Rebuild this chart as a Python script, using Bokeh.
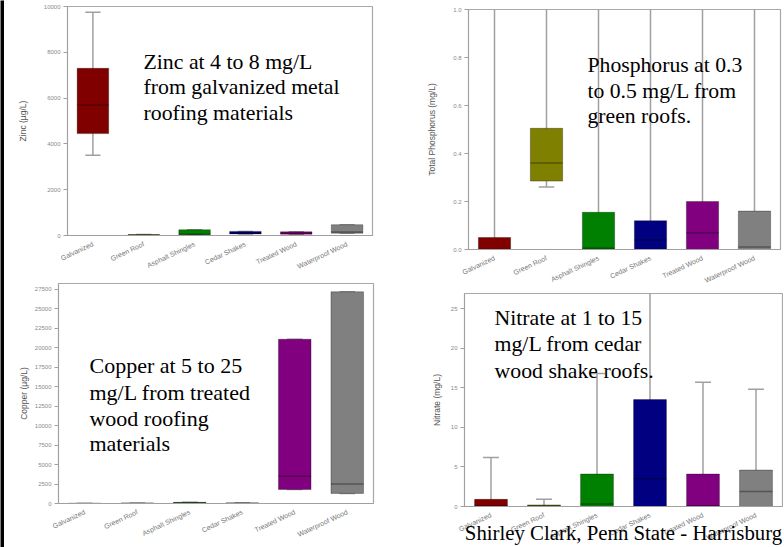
from bokeh.plotting import figure
from bokeh.models import (FactorRange, Range1d, Label, FixedTicker, NumeralTickFormatter,
                          ColumnDataSource)
from bokeh.layouts import row, column
from bokeh.embed import file_html
from bokeh.resources import INLINE

categories = ["Galvanized", "Green Roof", "Asphalt Shingles", "Cedar Shakes",
              "Treated Wood", "Waterproof Wood"]
box_colors = ["#800000", "#808000", "#008000", "#000080", "#800080", "#808080"]

# Zinc (ug/L)
zinc_low = [3500, 10, 30, 70, 55, 100]
zinc_q1 = [4450, 10, 30, 70, 55, 100]
zinc_med = [5700, 25, 60, 120, 100, 150]
zinc_q3 = [7300, 40, 250, 180, 160, 470]
zinc_high = [9750, 40, 250, 180, 160, 470]
zinc_ticks = [0, 2000, 4000, 6000, 8000, 10000]

# Total phosphorus (mg/L)
phos_low = [0.0, 0.26, 0.0, 0.0, 0.0, 0.0]
phos_q1 = [0.0, 0.285, 0.0, 0.0, 0.0, 0.0]
phos_med = [0.0, 0.36, 0.005, 0.04, 0.07, 0.01]
phos_q3 = [0.05, 0.505, 0.155, 0.12, 0.2, 0.16]
phos_high = [1.5, 1.5, 1.5, 1.5, 1.5, 1.5]
phos_ticks = [0.0, 0.2, 0.4, 0.6, 0.8, 1.0]

# Copper (ug/L)
copper_low = [0, 0, 20, 10, 1800, 1300]
copper_q1 = [0, 0, 20, 10, 1800, 1300]
copper_med = [0, 20, 80, 40, 3500, 2500]
copper_q3 = [5, 40, 150, 80, 21100, 27200]
copper_high = [5, 40, 150, 80, 21100, 27200]
copper_ticks = [0, 2500, 5000, 7500, 10000, 12500, 15000, 17500, 20000, 22500, 25000, 27500]

# Nitrate (mg/L)
nitrate_low = [0, 0, 0, 0, 0, 0]
nitrate_q1 = [0, 0.05, 0, 0, 0, 0]
nitrate_med = [0.1, 0.1, 0.3, 3.5, 0.1, 1.9]
nitrate_q3 = [0.9, 0.2, 4.1, 13.5, 4.1, 4.6]
nitrate_high = [6.2, 0.9, 16.8, 40, 15.7, 14.8]
nitrate_ticks = [0, 5, 10, 15, 20, 25]

SERIF = "Liberation Serif"
SANS = "Liberation Sans"
GRAY = "#a0a0a0"


def make_panel(ylabel, low, q1, med, q3, high, y_end, ticks, fmt,
               w, h, borders, label_standoff):
    p = figure(x_range=FactorRange(*categories), y_range=Range1d(0, y_end),
               width=w, height=h, output_backend="svg",
               toolbar_location=None,
               min_border_left=borders[0], min_border_right=borders[1],
               min_border_top=borders[2], min_border_bottom=borders[3])
    src = ColumnDataSource(dict(cat=categories, low=low, q1=q1, med=med, q3=q3,
                                high=high, color=box_colors))
    p.segment(x0="cat", y0="low", x1="cat", y1="high", source=src,
              line_color=GRAY, line_width=1.5)
    p.rect(x="cat", y="low", width=0.3, height=1.5, height_units="screen",
           source=src, fill_color=GRAY, line_color=None)
    p.rect(x="cat", y="high", width=0.3, height=1.5, height_units="screen",
           source=src, fill_color=GRAY, line_color=None)
    p.vbar(x="cat", bottom="q1", top="q3", width=0.62, source=src,
           fill_color="color", line_color="black", line_alpha=0.3, line_width=1)
    p.rect(x="cat", y="med", width=0.62, height=1.5, height_units="screen",
           source=src, fill_color="black", fill_alpha=0.35, line_color=None)

    p.xgrid.visible = False
    p.ygrid.visible = False
    p.outline_line_color = "#a8a8a8"
    p.outline_line_width = 1.2
    p.background_fill_color = "white"
    p.border_fill_color = "white"

    xa = p.xaxis[0]
    xa.major_label_orientation = 0.44
    xa.major_label_text_font = SANS
    xa.major_label_text_font_size = "7px"
    xa.major_label_text_color = "#7a7a7a"
    xa.major_tick_line_color = None
    xa.axis_line_color = GRAY
    xa.major_label_standoff = 2

    ya = p.yaxis[0]
    ya.ticker = FixedTicker(ticks=ticks)
    if fmt:
        ya.formatter = NumeralTickFormatter(format=fmt)
    ya.minor_tick_line_color = None
    ya.major_tick_out = 4
    ya.major_tick_in = 0
    ya.major_tick_line_color = GRAY
    ya.axis_line_color = GRAY
    ya.major_label_text_font = SANS
    ya.major_label_text_font_size = "6px"
    ya.major_label_text_color = "#8a8a8a"
    ya.major_label_standoff = 3
    ya.axis_label = ylabel
    ya.axis_label_text_font = SANS
    ya.axis_label_text_font_size = "8.5px"
    ya.axis_label_text_font_style = "normal"
    ya.axis_label_text_color = "#555555"
    ya.axis_label_standoff = label_standoff
    return p


def add_note(p, lines, x, ys, size="21.8px"):
    for line, y in zip(lines, ys):
        p.add_layout(Label(x=x, y=y, text=line, text_font=SERIF,
                           text_font_size=size, text_color="black",
                           text_baseline="alphabetic", text_align="left"))


# Zinc
pa = make_panel("Zinc (\u00b5g/L)", zinc_low, zinc_q1, zinc_med, zinc_q3, zinc_high,
                10000, zinc_ticks, None, 388, 277, (63, 20, 6, 42), 13)
add_note(pa, ["Zinc at 4 to 8 mg/L", "from galvanized metal", "roofing materials"],
         1.495, [7555, 6463, 5371])

# Phosphorus
pb = make_panel("Total Phosphorus (mg/L)", phos_low, phos_q1, phos_med, phos_q3, phos_high,
                1.0, phos_ticks, "0.0", 391, 291, (76, 3, 9, 42), 13)
add_note(pb, ["Phosphorus at 0.3", "to 0.5 mg/L from", "green roofs."],
         2.288, [0.7667, 0.6625, 0.5583], size="21.7px")

# Copper
pc = make_panel("Copper (\u00b5g/L)", copper_low, copper_q1, copper_med, copper_q3, copper_high,
                28270, copper_ticks, None, 388, 268, (54, 19, 6, 42), 3)
add_note(pc, ["Copper at 5 to 25", "mg/L from treated", "wood roofing", "materials"],
         0.59, [17733, 14302, 10884, 7671], size="22px")

# Nitrate
pd_ = make_panel("Nitrate (mg/L)", nitrate_low, nitrate_q1, nitrate_med, nitrate_q3, nitrate_high,
                 26.9, nitrate_ticks, None, 391, 256, (72, 1, 2, 40), 6)
add_note(pd_, ["Nitrate at 1 to 15", "mg/L from cedar", "wood shake roofs."],
         0.566, [23.83, 20.50, 17.17])

# credit line placed as the nitrate panel's x-axis label
xd = pd_.xaxis[0]
xd.axis_label = "Shirley Clark, Penn State - Harrisburg"
xd.axis_label_text_font = SERIF
xd.axis_label_text_font_style = "normal"
xd.axis_label_text_color = "black"
xd.axis_label_standoff = -26
xd.axis_label_text_font_size = "20.8px"

# black slide edge on the left
bar = figure(width=4, height=547, output_backend="svg", toolbar_location=None,
             min_border=0, background_fill_color="black", border_fill_color="black",
             outline_line_color=None)
bar.xaxis.visible = False
bar.yaxis.visible = False
bar.grid.visible = False

# nested containers so each panel keeps its own frame position
layout = row(bar,
             column(column(pa), column(pc)),
             column(column(pb), column(pd_)))

with open("out.html", "w") as f:
    f.write(file_html(layout, INLINE))
